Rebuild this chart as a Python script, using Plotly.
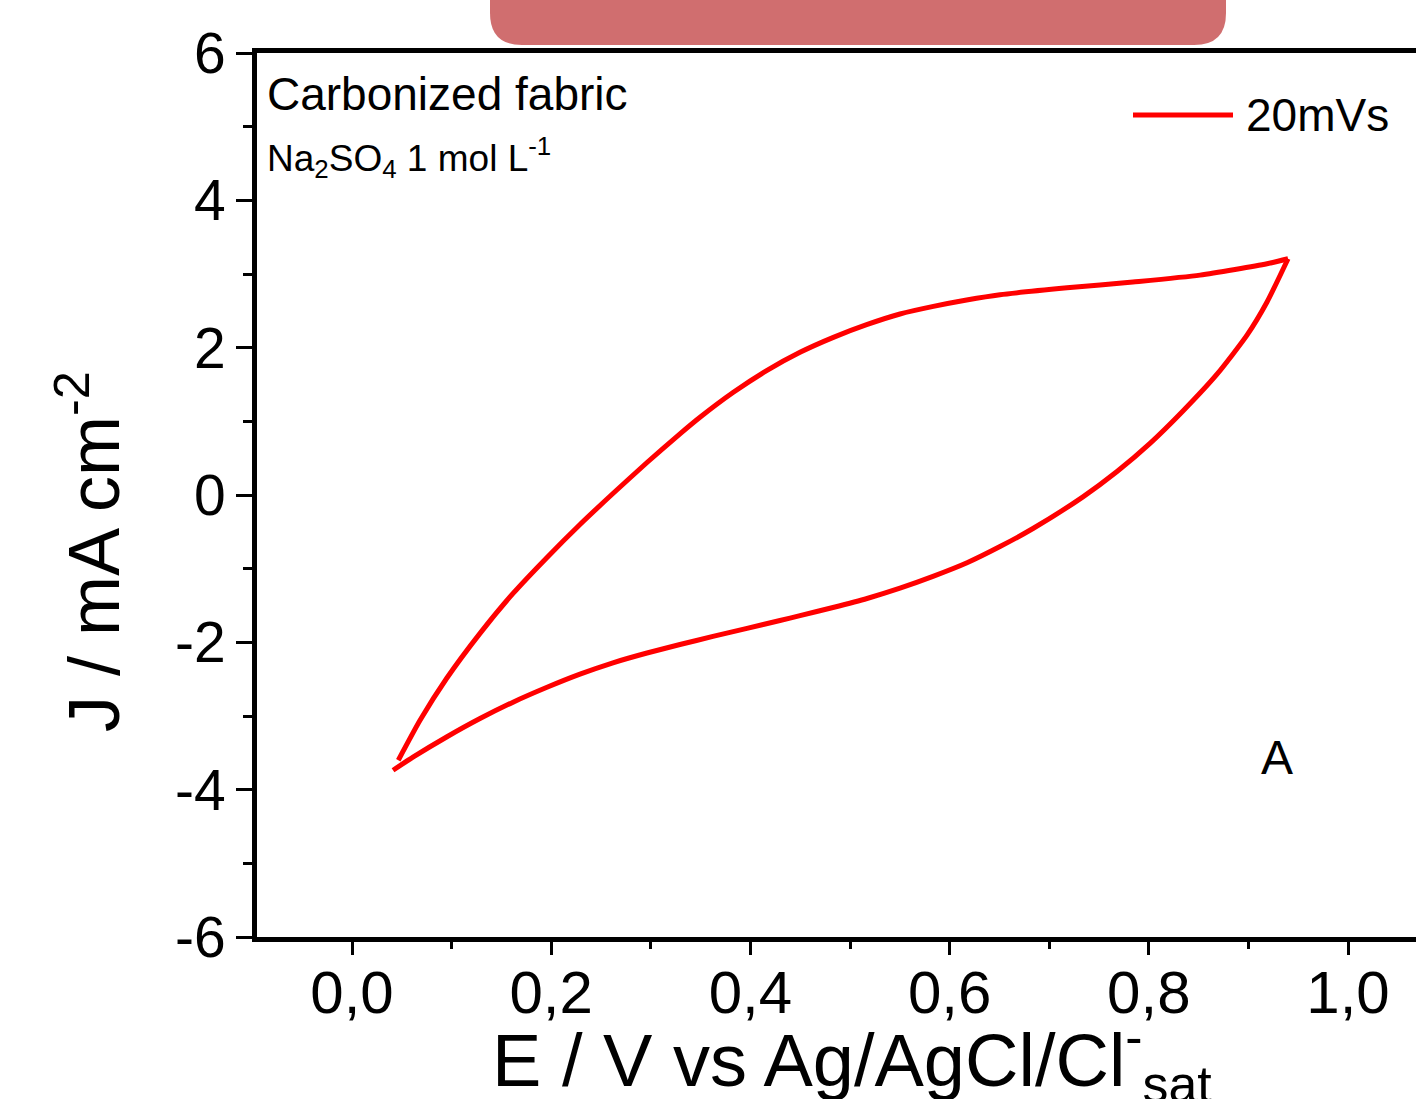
import plotly.graph_objects as go

# ---- data ----
forward_E = [0.0465, 0.0683, 0.0951, 0.1285, 0.1617, 0.1958, 0.2289, 0.2620, 0.2962, 0.3293,
             0.3494, 0.3829, 0.4163, 0.4498, 0.4833, 0.5167, 0.5502, 0.5837, 0.6171, 0.6506,
             0.7179, 0.7841, 0.8514, 0.9187, 0.9398]
forward_J = [-3.600, -3.058, -2.488, -1.878, -1.336, -0.847, -0.400, 0.020, 0.441, 0.830,
             1.055, 1.394, 1.688, 1.937, 2.140, 2.312, 2.457, 2.560, 2.647, 2.719,
             2.812, 2.892, 2.985, 3.139, 3.207]
reverse_E = [0.9398, 0.9187, 0.8986, 0.8685, 0.8343, 0.8012, 0.7681, 0.7339, 0.6837, 0.6506,
             0.6175, 0.5833, 0.5502, 0.5171, 0.4829, 0.4498, 0.4297, 0.3966, 0.3624, 0.3293,
             0.2962, 0.2620, 0.2289, 0.1958, 0.1617, 0.1285, 0.0954, 0.0612, 0.0412]
reverse_J = [3.207, 2.620, 2.170, 1.640, 1.140, 0.700, 0.318, -0.025, -0.455, -0.700,
             -0.920, -1.105, -1.265, -1.405, -1.527, -1.638, -1.703, -1.810, -1.920, -2.030,
             -2.145, -2.278, -2.432, -2.610, -2.812, -3.035, -3.282, -3.559, -3.736]

x_tickvals = [0.0, 0.2, 0.4, 0.6, 0.8, 1.0]
x_ticktext = ["0,0", "0,2", "0,4", "0,6", "0,8", "1,0"]
y_tickvals = [-6, -4, -2, 0, 2, 4, 6]
y_ticktext = ["-6", "-4", "-2", "0", "2", "4", "6"]

series_name = "20mVs"
label_title = "Carbonized fabric"
label_electrolyte = "Na<sub>2</sub>SO<sub>4</sub> 1 mol L<sup>-1</sup>"
panel_letter = "A"
x_title = "E / V vs Ag/AgCl/Cl<sup>-</sup><sub>sat</sub>"
y_title = "J / mA cm<sup>-2</sup>"

# ---- layout geometry (screen pixels; body margin removed by post_script) ----
W, H = 1416, 1099
L, R, T, B = 257, 1416, 53, 937          # plot area in screen pixels
FONT = "Liberation Sans, Arial, sans-serif"
RED = "#ff0000"


def px(xs):
    return (xs - L) / (R - L)


def py(ys):
    return (B - ys) / (B - T)


fig = go.Figure()
fig.add_trace(go.Scatter(x=forward_E, y=forward_J, mode="lines", name=series_name,
                         legendgroup="cv", showlegend=False,
                         line=dict(color=RED, width=5, shape="spline", smoothing=0.6)))
fig.add_trace(go.Scatter(x=reverse_E, y=reverse_J, mode="lines", name=series_name,
                         legendgroup="cv", showlegend=False,
                         line=dict(color=RED, width=5, shape="spline", smoothing=0.6)))

x0 = 0.0 - (352 - L) / 996.0
x1 = 0.0 + (R - 352) / 996.0

fig.update_layout(
    width=W, height=H,
    margin=dict(l=L, r=W - R, t=T, b=H - B, pad=0),
    paper_bgcolor="white", plot_bgcolor="white",
    font=dict(family=FONT, color="black"),
    xaxis=dict(range=[x0, x1], showgrid=False, zeroline=False,
               showline=True, linecolor="black", linewidth=5, mirror=True,
               ticks="outside", ticklen=13, tickwidth=3, tickcolor="black",
               tickvals=x_tickvals, ticktext=x_ticktext,
               tickfont=dict(size=60, family=FONT), ticklabelstandoff=-14,
               minor=dict(dtick=0.1, tick0=0, ticks="outside", ticklen=7, tickwidth=3,
                          tickcolor="black")),
    yaxis=dict(range=[-6, 6], showgrid=False, zeroline=False,
               showline=True, linecolor="black", linewidth=5, mirror=False,
               ticks="outside", ticklen=16, tickwidth=3, tickcolor="black",
               tickvals=y_tickvals, ticktext=y_ticktext,
               tickfont=dict(size=57, family=FONT), ticklabelstandoff=-1,
               minor=dict(dtick=1, tick0=0, ticks="outside", ticklen=9, tickwidth=3,
                          tickcolor="black")),
)

# rounded red banner at top
bx0, bx1, by0, by1, r = 490, 1226, -40, 45, 32
path = (f"M {px(bx0)},{py(by0)} L {px(bx0)},{py(by1 - r)} "
        f"Q {px(bx0)},{py(by1)} {px(bx0 + r)},{py(by1)} "
        f"L {px(bx1 - r)},{py(by1)} "
        f"Q {px(bx1)},{py(by1)} {px(bx1)},{py(by1 - r)} "
        f"L {px(bx1)},{py(by0)} Z")
fig.add_shape(type="path", path=path, xref="paper", yref="paper",
              fillcolor="rgb(208,110,111)", line=dict(width=0), layer="above")

# manual legend
fig.add_shape(type="line", xref="paper", yref="paper",
              x0=px(1133), x1=px(1233), y0=py(115), y1=py(115),
              line=dict(color=RED, width=5))
fig.add_annotation(text=series_name, xref="paper", yref="paper",
                   x=px(1244), y=py(115), xanchor="left", yanchor="middle",
                   showarrow=False, font=dict(size=46, family=FONT))

fig.add_annotation(text=label_title, xref="paper", yref="paper",
                   x=px(265), y=py(94), xanchor="left", yanchor="middle",
                   showarrow=False, font=dict(size=46, family=FONT))
fig.add_annotation(text=label_electrolyte, xref="paper", yref="paper",
                   x=px(265), y=py(157), xanchor="left", yanchor="middle",
                   showarrow=False, font=dict(size=37, family=FONT))
fig.add_annotation(text=panel_letter, xref="paper", yref="paper",
                   x=px(1277), y=py(757), xanchor="center", yanchor="middle",
                   showarrow=False, font=dict(size=48, family=FONT))

# axis titles
fig.add_annotation(text=y_title, xref="paper", yref="paper",
                   x=px(88), y=py(552), xanchor="center", yanchor="middle",
                   textangle=-90, showarrow=False, font=dict(size=72, family=FONT))
fig.add_annotation(text=x_title, xref="paper", yref="paper",
                   x=px(852), y=py(1060), xanchor="center", yanchor="middle",
                   showarrow=False, font=dict(size=74, family=FONT))

fig.write_html("out.html",
               config={"displayModeBar": False},
               post_script="document.body.style.margin='0';"
                           "document.body.style.overflow='hidden';")
